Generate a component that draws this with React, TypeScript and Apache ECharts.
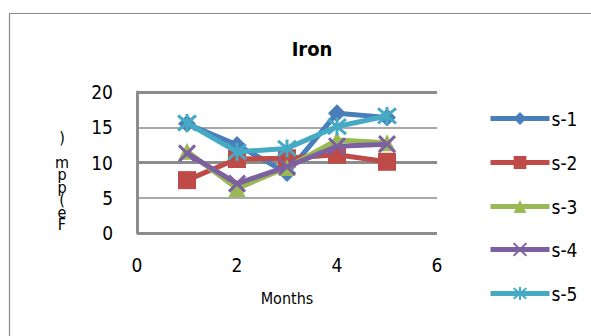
import React, { useEffect, useRef } from "react";
import * as echarts from "echarts";

const months = [1, 2, 3, 4, 5];
const seriesNames = ["s-1", "s-2", "s-3", "s-4", "s-5"];
const s1 = [15.5, 12.5, 8.5, 17.0, 16.4];
const s2 = [7.5, 10.5, 10.6, 11.1, 10.1];
const s3 = [11.6, 6.3, 9.3, 13.2, 12.8];
const s4 = [11.3, 7.0, 9.4, 12.3, 12.6];
const s5 = [15.6, 11.5, 12.0, 15.1, 16.6];
const xTicks = [0, 2, 4, 6];
const yTicks = [0, 5, 10, 15, 20];
const yTitleStacked = ")\n\nm\np\np\n(\ne\nF";

const colors = ["#4a7ebb", "#be4b48", "#98b954", "#7d60a0", "#46aac5"];
const FONT = "'Liberation Sans Narrow', 'DejaVu Sans Condensed', 'Liberation Sans', sans-serif";

export default function App() {
  const ref = useRef<HTMLDivElement>(null);
  useEffect(() => {
    if (!ref.current) return;
    const chart = echarts.init(ref.current, null, { renderer: "svg" });
    const all = [s1, s2, s3, s4, s5];
    const symbols = [
      "diamond",
      "rect",
      "triangle",
      "path://M0,0L10,10M10,0L0,10",
      "path://M0,0L10,10M10,0L0,10M5,-1L5,11",
    ];
    const sizes = [18, 18, 17, 16, 18];
    const strokeSym = [false, false, false, true, true];
    const legendTops = [115, 159, 203, 246, 290];
    const option: any = {
      animation: false,
      textStyle: { fontFamily: FONT },
      title: {
        text: "Iron",
        left: 307,
        top: 34,
        textAlign: "center",
        textStyle: { fontFamily: FONT, fontSize: 20, fontWeight: "bold", color: "#000" },
      },
      grid: { left: 137, right: 154, top: 92, bottom: 103 },
      legend: seriesNames.map((n, i) => ({
        data: [n],
        orient: "vertical",
        left: 483,
        top: legendTops[i] - 11,
        itemWidth: 59,
        itemHeight: 16,
        itemGap: 4,
        lineStyle: { width: 5 },
        textStyle: { fontFamily: FONT, fontSize: 19, color: "#000", padding: [0, 0, 0, -3] },
      })),
      xAxis: {
        type: "value",
        min: xTicks[0],
        max: xTicks[xTicks.length - 1],
        interval: 2,
        axisLine: { show: false },
        axisTick: { show: false },
        splitLine: { show: false },
        axisLabel: { fontFamily: FONT, fontSize: 19, color: "#000", margin: 22 },
        name: "Months",
        nameLocation: "middle",
        nameGap: 57,
        nameTextStyle: { fontFamily: FONT, fontSize: 16, color: "#000" },
      },
      yAxis: [
        {
          type: "value",
          min: yTicks[0],
          max: yTicks[yTicks.length - 1],
          interval: 5,
          axisLine: { show: true, lineStyle: { color: "#8c8c8c", width: 3 } },
          axisTick: { show: false },
          splitLine: { show: true, lineStyle: { color: "#8c8c8c", width: 1.5 } },
          axisLabel: { fontFamily: FONT, fontSize: 19, color: "#000", margin: 24 },
        },
        {
          type: "value",
          position: "left",
          min: 0,
          max: 20,
          interval: 10,
          axisLine: { show: false },
          axisTick: { show: false },
          axisLabel: { show: false },
          splitLine: { show: true, lineStyle: { color: "#8c8c8c", width: 3 } },
        },
      ],
      graphic: [
        {
          type: "rect",
          shape: { x: 9.5, y: 13.5, width: 620, height: 360 },
          style: { fill: "none", stroke: "#8c8c8c", lineWidth: 1.2 },
          silent: true,
          z: -10,
        },
        {
          type: "text",
          x: 62,
          y: 131,
          style: {
            text: yTitleStacked,
            font: `16px ${FONT}`,
            lineHeight: 12.5,
            fill: "#000",
            textAlign: "center",
            textVerticalAlign: "top",
          },
        },
      ],
      series: all.map((d, i) => ({
        name: seriesNames[i],
        type: "line",
        yAxisIndex: 0,
        data: d.map((v, k) => [months[k], v]),
        symbol: symbols[i],
        symbolSize: sizes[i],
        showSymbol: true,
        lineStyle: { color: colors[i], width: 5 },
        itemStyle: strokeSym[i]
          ? { color: colors[i], borderColor: colors[i], borderWidth: 3 }
          : { color: colors[i], borderColor: colors[i], borderWidth: 0 },
        z: 2 + i,
      })),
    };
    chart.setOption(option);
    return () => chart.dispose();
  }, []);
  return (
    <div
      ref={ref}
      style={{ position: "fixed", left: 0, top: 0, width: 591, height: 336, background: "#fff" }}
    />
  );
}
